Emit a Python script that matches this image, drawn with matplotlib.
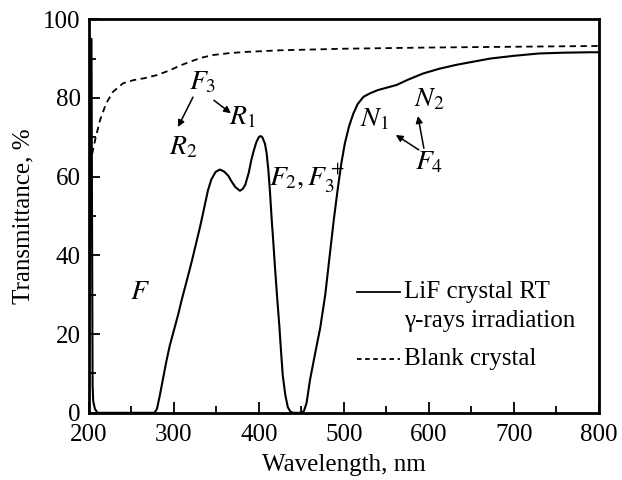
import matplotlib
matplotlib.use('Agg')
import matplotlib.pyplot as plt
from matplotlib.ticker import MultipleLocator

plt.rcParams.update({
    'font.family': 'Liberation Serif',
    'mathtext.fontset': 'stix',
    'font.size': 18,
})

# irradiated LiF crystal (solid)
lif_nm = [200, 201, 202, 203, 203.6, 204.3, 205, 207, 210, 277, 280, 283, 287, 291, 295,
          300, 305, 309, 315, 321, 326, 331, 336, 340, 344, 349, 354, 359, 364, 368,
          372, 377.6, 381, 384, 388, 391, 394, 397, 400, 402, 404, 407, 409, 411, 413,
          415, 417, 419, 421.5, 424, 426, 428, 431, 434, 437, 440, 450, 453, 456, 460,
          466, 472, 478, 483.5, 488, 493, 497, 501, 506, 511, 516, 523, 531, 540, 552,
          562, 575, 593, 612, 632, 652, 672, 700, 730, 760, 789, 800]
lif_t = [0, 40, 95, 95, 50, 7, 3, 1, 0, 0, 1, 4, 8.5, 13, 17,
         21, 25, 28.6, 33.5, 38.5, 43, 47.5, 52.5, 56.5, 59.3, 61.2, 61.8, 61.3, 60.2, 58.7,
         57.4, 56.4, 56.9, 58, 61, 64.2, 66.7, 68.8, 70.1, 70.3, 70, 68.4, 66, 61.8, 56,
         49, 43, 36.5, 29, 22, 15.5, 9.5, 4.5, 1.4, 0.3, 0, 0, 0.5, 2.5, 8.3,
         15, 21.5, 30, 40.5, 49, 57.4, 63.5, 68.4, 72.8, 76, 78.4, 80.3, 81.2, 82, 82.7,
         83.3, 84.6, 86.2, 87.4, 88.4, 89.2, 90, 90.7, 91.3, 91.5, 91.6, 91.6]

# blank crystal (dashed)
blank_nm = [202, 204, 208, 213, 220, 228, 240, 252, 265, 280, 295, 307, 319, 332, 346,
            366, 386, 425, 500, 600, 700, 800]
blank_t = [63, 66, 70, 74.3, 78.5, 81.5, 83.7, 84.5, 85, 85.8, 87, 88.2, 89.2, 90.2, 90.9,
           91.4, 91.7, 92.1, 92.5, 92.8, 93, 93.2]

fig = plt.figure(figsize=(6.22, 4.8), dpi=100)
ax = fig.add_axes([0.143, 0.140, 0.820, 0.820])

ax.plot(lif_nm, lif_t, color='black', lw=1.5)
ax.plot(blank_nm, blank_t, color='black', lw=1.3, ls=(0, (3.5, 2.5)))

ax.set_xlim(200, 800)
ax.set_ylim(0, 100)
ax.xaxis.set_major_locator(MultipleLocator(100))
ax.xaxis.set_minor_locator(MultipleLocator(50))
ax.yaxis.set_major_locator(MultipleLocator(20))
ax.yaxis.set_minor_locator(MultipleLocator(10))
ax.tick_params(which='both', direction='in', top=False, right=False, width=1.3)
ax.tick_params(which='major', length=8)
ax.tick_params(which='minor', length=5)
ax.tick_params(axis='x', which='major', pad=8)
ax.tick_params(axis='y', which='major', pad=6)
for s in ax.spines.values():
    s.set_linewidth(2)
ax.set_xlabel('Wavelength, nm', labelpad=6)
ax.set_ylabel('Transmittance, %', labelpad=6)

# band labels
ax.text(260, 30.5, r'$F$', ha='center', va='center', fontsize=20)
ax.text(334, 84, r'$F_3$', ha='center', va='center', fontsize=20)
ax.text(381, 75, r'$R_1$', ha='center', va='center', fontsize=20)
ax.text(311, 67.5, r'$R_2$', ha='center', va='center', fontsize=20)
ax.text(457, 59.5, r'$F_2, F_3^+$', ha='center', va='center', fontsize=20)
ax.text(536, 74.5, r'$N_1$', ha='center', va='center', fontsize=20)
ax.text(600, 79.5, r'$N_2$', ha='center', va='center', fontsize=20)
ax.text(600, 63.5, r'$F_4$', ha='center', va='center', fontsize=20)

arr = dict(arrowstyle='-|>', color='black', lw=1.1, mutation_scale=10, shrinkA=0, shrinkB=0)
ax.annotate('', xy=(304.7, 72.6), xytext=(322.4, 80.2), arrowprops=arr)
ax.annotate('', xy=(367, 76.1), xytext=(347, 79.4), arrowprops=arr)
ax.annotate('', xy=(561, 70.6), xytext=(588, 66.8), arrowprops=arr)
ax.annotate('', xy=(587, 75.4), xytext=(594, 67.2), arrowprops=arr)

# legend drawn by hand to keep the two-line label layout
ax.plot([0.525, 0.61], [0.306, 0.306], transform=ax.transAxes, color='black', lw=1.3)
ax.plot([0.525, 0.61], [0.136, 0.136], transform=ax.transAxes, color='black', lw=1.3,
        ls=(0, (2.5, 2)))
ax.text(0.618, 0.306, 'LiF crystal RT', transform=ax.transAxes, va='center')
ax.text(0.618, 0.233, 'γ-rays irradiation', transform=ax.transAxes, va='center')
ax.text(0.618, 0.136, 'Blank crystal', transform=ax.transAxes, va='center')

plt.savefig('out.png', dpi=100)
